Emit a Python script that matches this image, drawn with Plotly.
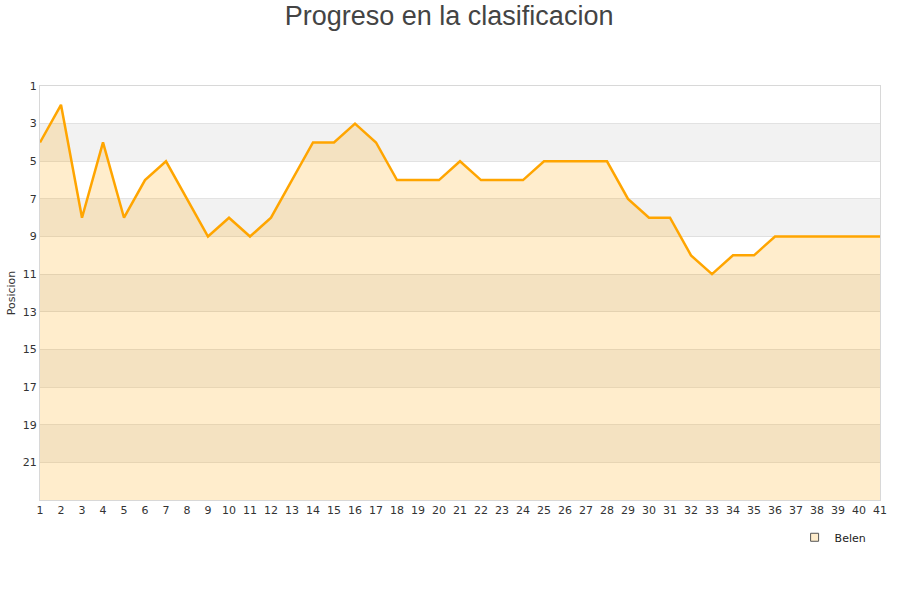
import plotly.graph_objects as go

jornadas = list(range(1, 42))
posiciones = [4, 2, 8, 4, 8, 6, 5, 7, 9, 8, 9, 8, 6, 4, 4, 3, 4, 6, 6, 6,
              5, 6, 6, 6, 5, 5, 5, 5, 7, 8, 8, 10, 11, 10, 10, 9, 9, 9, 9, 9, 9]
y_ticks = list(range(1, 23, 2))
team = "Belen"

fig = go.Figure()

# baseline for area fill (bottom of reversed axis)
fig.add_trace(go.Scatter(x=jornadas, y=[23] * len(jornadas), mode="lines",
                         line=dict(width=0), showlegend=False, hoverinfo="skip"))
fig.add_trace(go.Scatter(x=jornadas, y=posiciones, mode="lines", fill="tonexty",
                         fillcolor="rgba(255,165,0,0.2)",
                         line=dict(color="#FFA500", width=2.5), showlegend=False, name=team))
fig.add_trace(go.Scatter(x=[None], y=[None], mode="markers", name=team,
                         marker=dict(symbol="square", size=8, color="#ffedcc",
                                     line=dict(color="#555", width=1))))

shapes = []
for lo in range(3, 23, 4):
    shapes.append(dict(type="rect", xref="paper", yref="y", x0=0, x1=1, y0=lo, y1=lo + 2,
                       fillcolor="#f2f2f2", line=dict(width=0), layer="below"))

fig.update_layout(
    width=900, height=600,
    paper_bgcolor="white", plot_bgcolor="white",
    margin=dict(l=40, r=20, t=86, b=100, autoexpand=False),
    title=dict(text="Progreso en la clasificacion", x=0.499, xanchor="center", y=0.99,
               yanchor="top", font=dict(family="Liberation Sans, Arial", size=27, color="#444")),
    shapes=shapes,
    showlegend=True,
    legend=dict(orientation="h", x=0.99, xanchor="right", y=-0.055, yanchor="top",
                font=dict(family="DejaVu Sans", size=11, color="#222"),
                itemwidth=30, bgcolor="rgba(0,0,0,0)"),
    font=dict(family="DejaVu Sans", size=11, color="#333"),
)
fig.update_xaxes(range=[1, 41], tickvals=jornadas, ticktext=[str(j) for j in jornadas],
                 showgrid=False, zeroline=False, showline=True, linecolor="#d8d8d8",
                 mirror=True, ticks="", tickfont=dict(size=11, color="#333"), automargin=False)
fig.update_yaxes(range=[23, 1], tickvals=y_ticks, ticktext=[str(t) for t in y_ticks],
                 showgrid=True, gridcolor="rgba(200,200,200,0.5)", gridwidth=1,
                 zeroline=False, showline=True, linecolor="#d8d8d8", mirror=True,
                 ticks="", tickfont=dict(size=11, color="#333"), automargin=False,
                 title=dict(text="Posicion", font=dict(size=11, color="#333"), standoff=4))

fig.write_html("out.html", config={"displayModeBar": False},
               post_script="document.body.style.margin='0';")
